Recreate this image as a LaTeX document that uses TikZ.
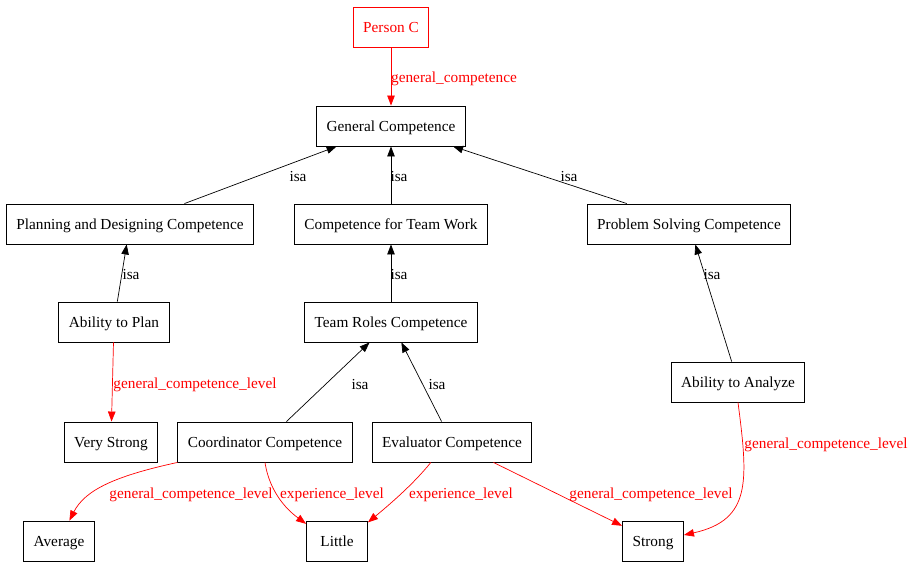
\documentclass[tikz,border=0pt]{standalone}
\usepackage{fontspec}
\setmainfont{Liberation Serif}
\usetikzlibrary{arrows.meta}

\begin{document}
\begin{tikzpicture}[x=1pt,y=-1pt,
  box/.style={draw, line width=0.9pt, minimum height=40pt, minimum width=61pt, inner xsep=10pt, text height=11pt, text depth=0pt, font=\fontsize{15.3}{18}\selectfont},
  lbl/.style={inner sep=0pt, yshift=-2pt, font=\fontsize{15.3}{18}\selectfont},
  isa/.style={-{Triangle[length=10pt,width=7.5pt]}, line width=0.7pt},
  rel/.style={isa, red}]
\useasboundingbox (0,0) rectangle (913,563);
\node[box, red] (pc) at (391,27) {Person C};
\node[box] (gc) at (391,126) {General Competence};
\node[box] (pdc) at (130,224) {Planning and Designing Competence};
\node[box] (ctw) at (391,224) {Competence for Team Work};
\node[box] (psc) at (689,224) {Problem Solving Competence};
\node[box] (atp) at (114,322) {Ability to Plan};
\node[box] (trc) at (391,322) {Team Roles Competence};
\node[box] (ata) at (738,382) {Ability to Analyze};
\node[box] (vs) at (111,442) {Very Strong};
\node[box] (cc) at (265,442) {Coordinator Competence};
\node[box] (ec) at (452,442) {Evaluator Competence};
\node[box] (avg) at (59,541) {Average};
\node[box] (lit) at (337,541) {Little};
\node[box] (str) at (653,541) {Strong};
\draw[rel] (pc) -- (gc);
\draw[isa] (pdc) -- (gc);
\draw[isa] (ctw) -- (gc);
\draw[isa] (psc) -- (gc);
\draw[isa] (atp) -- (pdc);
\draw[isa] (trc) -- (ctw);
\draw[isa] (ata) -- (psc);
\draw[isa] (cc) -- (trc);
\draw[isa] (ec) -- (trc);
\draw[rel] (atp) -- (vs);
\draw[rel] (cc.south west) .. controls (115,476) and (85,490) .. (avg.63);
\draw[rel] (cc.south) .. controls (270,495) and (290,512) .. (lit.151);
\draw[rel] (ec.224) .. controls (415,482) and (395,500) .. (lit.31);
\draw[rel] (ec) -- (str);
\draw[rel] (ata.south) .. controls (748,480) and (752,520) .. (str.11);
\node[lbl, red] (l1) at (454,77) {general\_competence};
\node[lbl] (l2) at (298,175) {isa};
\node[lbl] (l3) at (399,175) {isa};
\node[lbl] (l4) at (569,175) {isa};
\node[lbl] (l5) at (131,273) {isa};
\node[lbl] (l6) at (399,273) {isa};
\node[lbl] (l7) at (712,273) {isa};
\node[lbl] (l8) at (360,383) {isa};
\node[lbl] (l9) at (437,383) {isa};
\node[lbl, red] (l10) at (195,383) {general\_competence\_level};
\node[lbl, red] (l11) at (191,493) {general\_competence\_level};
\node[lbl, red] (l12) at (332,493) {experience\_level};
\node[lbl, red] (l13) at (461,493) {experience\_level};
\node[lbl, red] (l14) at (651,493) {general\_competence\_level};
\node[lbl, red] (l15) at (826,443) {general\_competence\_level};
\end{tikzpicture}
\end{document}
